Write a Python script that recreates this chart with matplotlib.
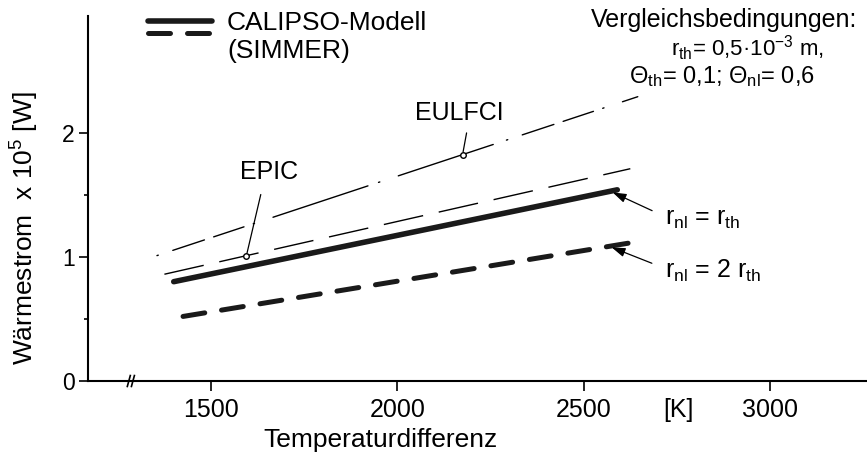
import numpy as np
import matplotlib
matplotlib.use('Agg')
import matplotlib.pyplot as plt
from matplotlib import font_manager
from matplotlib.legend_handler import HandlerBase
from matplotlib.lines import Line2D

# Temperaturdifferenz [K] / Wärmestrom [10^5 W], Anfangs- und Endpunkte der Geraden
t_calipso_1 = [1400, 2590]   # CALIPSO, r_nl = r_th
q_calipso_1 = [0.80, 1.54]
t_calipso_2 = [1425, 2660]   # CALIPSO, r_nl = 2 r_th
q_calipso_2 = [0.52, 1.13]
t_epic = [1375, 2625]
q_epic = [0.86, 1.71]
t_eulfci = [1355, 2645]
q_eulfci = [1.01, 2.29]

# Stellen der Bezeichnungskreise auf EPIC / EULFCI
t_epic_mark = 1595
t_eulfci_mark = 2175

x_ticks = [1500, 2000, 2500, 3000]
y_ticks = [0, 1, 2]
y_minor = [0.5, 1.5]
x_break = 1285


def font_or(name, fallback):
    try:
        font_manager.findfont(font_manager.FontProperties(family=name),
                              fallback_to_default=False)
        return name
    except ValueError:
        return fallback


SANS = font_or('Liberation Sans', 'DejaVu Sans')
NARROW = font_or('Liberation Sans Narrow', SANS)
has_narrow = NARROW != SANS

plt.rcParams['font.family'] = [SANS, 'DejaVu Sans']
plt.rcParams['mathtext.fontset'] = 'custom'
plt.rcParams['mathtext.rm'] = SANS
plt.rcParams['mathtext.it'] = SANS
plt.rcParams['mathtext.sf'] = SANS
plt.rcParams['mathtext.bf'] = SANS + ':bold'

ink = '#1a1a1a'


class HandlerStacked(HandlerBase):
    """Zwei Linien übereinander in einem Legendeneintrag."""

    def __init__(self, levels, **kw):
        super().__init__(**kw)
        self.levels = levels

    def create_artists(self, legend, orig_handle, xdescent, ydescent,
                       width, height, fontsize, trans):
        out = []
        for h, lev in zip(orig_handle, self.levels):
            y = lev * fontsize
            ln = Line2D([-xdescent, -xdescent + width], [y, y])
            self.update_prop(ln, h, legend)
            ln.set_transform(trans)
            out.append(ln)
        return out


fig = plt.figure(figsize=(8.67, 4.57), dpi=100)
ax = fig.add_axes([88 / 867, 76 / 457, 779 / 867, 365 / 457])
ax.set_xlim(1170, 3260)
ax.set_ylim(0, 2.94)

l1, = ax.plot(t_calipso_1, q_calipso_1, color=ink, lw=4.0,
              solid_capstyle='round')
l2, = ax.plot(t_calipso_2, q_calipso_2, color=ink, lw=3.6,
              dashes=(4.4, 3.4), dash_capstyle='round')
ax.plot(t_epic, q_epic, color='black', lw=1.0, dashes=(29, 11.5))
ax.plot(t_eulfci, q_eulfci, color='black', lw=1.0,
        dashes=[1, 11, 24, 7, 23, 7, 1, 14, 72, 8, 1, 14, 72, 10],
        dash_capstyle='round')

q_epic_mark = np.interp(t_epic_mark, t_epic, q_epic)
q_eulfci_mark = np.interp(t_eulfci_mark, t_eulfci, q_eulfci)
ax.plot([t_epic_mark, t_eulfci_mark], [q_epic_mark, q_eulfci_mark], 'o',
        ms=4, mfc='white', mec='black', mew=1.0)

# Bezeichnungen mit Hinweislinien
ax.annotate('EPIC', xy=(t_epic_mark, q_epic_mark), xytext=(1656, 1.63),
            ha='center', va='baseline', fontsize=18,
            arrowprops=dict(arrowstyle='-', lw=0.9, color='black',
                            relpos=(0.4, 0), shrinkA=6, shrinkB=2))
ax.annotate('EULFCI', xy=(t_eulfci_mark, q_eulfci_mark), xytext=(2166, 2.105),
            ha='center', va='baseline', fontsize=18,
            arrowprops=dict(arrowstyle='-', lw=0.9, color='black',
                            relpos=(0.6, 0), shrinkA=4, shrinkB=2))

t_tip_1, t_tip_2 = 2571, 2568
arrow = dict(arrowstyle='-|>,head_length=0.45,head_width=0.15', lw=0.9,
             color='black', relpos=(0, 0.6), shrinkA=8, shrinkB=2)
ax.annotate('r$_{nl}$ = r$_{th}$',
            xy=(t_tip_1, np.interp(t_tip_1, t_calipso_1, q_calipso_1)),
            xytext=(2718, 1.258), ha='left', va='baseline', fontsize=18,
            arrowprops=arrow)
ax.annotate('r$_{nl}$ = 2 r$_{th}$',
            xy=(t_tip_2, np.interp(t_tip_2, t_calipso_2, q_calipso_2)),
            xytext=(2718, 0.83), ha='left', va='baseline', fontsize=18,
            arrowprops=arrow)

ax.text(2877, 2.85, 'Vergleichsbedingungen:', ha='center', va='baseline',
        fontsize=18)
ax.text(2940, 2.615, 'r$_{th}$= 0,5·10$^{-3}$ m,', ha='center',
        va='baseline', fontsize=16)
ax.text(2870, 2.40, 'Θ$_{th}$= 0,1; Θ$_{nl}$= 0,6', ha='center',
        va='baseline', fontsize=17)

# Achsen
for side in ('top', 'right'):
    ax.spines[side].set_visible(False)
for side in ('left', 'bottom'):
    ax.spines[side].set_linewidth(1.5)

xt_size = 20 if has_narrow else 18
yt_size = 17 if has_narrow else 16.5
ax.set_xticks(x_ticks, labels=[str(v) for v in x_ticks],
              fontfamily=NARROW, fontsize=xt_size)
ax.set_yticks(y_ticks, labels=[str(v) for v in y_ticks],
              fontfamily=NARROW, fontsize=yt_size)
ax.set_yticks(y_minor, minor=True)
ax.tick_params(axis='x', direction='out', length=7, width=1.2, pad=5)
ax.tick_params(axis='y', which='major', direction='out', length=6.5,
               width=1.2, pad=3)
ax.tick_params(axis='y', which='minor', direction='out', length=3, width=1.2)

ax.text(2753, -0.234, '[K]', ha='center', va='center',
        fontfamily=NARROW, fontsize=xt_size)

# Achsenunterbrechung
for dx in (-5.5, 5.5):
    ax.plot([x_break + dx - 4, x_break + dx + 4], [-0.044, 0.044],
            color='black', lw=1.2, clip_on=False)

ax.set_xlabel('Temperaturdifferenz', fontsize=19)
ax.xaxis.set_label_coords(0.376, -0.162)
ax.xaxis.label.set_verticalalignment('center')

ax.set_ylabel('Wärmestrom  x 10$^5$ [W]', fontsize=19)
ax.yaxis.set_label_coords(-0.081, 0.419)
ax.yaxis.label.set_verticalalignment('center')
ax.yaxis.label.set_horizontalalignment('center')

fig.legend([(l1, l2)], ['CALIPSO-Modell\n(SIMMER)'],
           handler_map={tuple: HandlerStacked((0.95, 0.49))},
           loc='upper left', bbox_to_anchor=(148 / 867, 1 - 11 / 457),
           frameon=False, borderpad=0, borderaxespad=0,
           handlelength=2.42, handletextpad=0.57, fontsize=19)

fig.savefig('out.png', dpi=100, facecolor='white')
